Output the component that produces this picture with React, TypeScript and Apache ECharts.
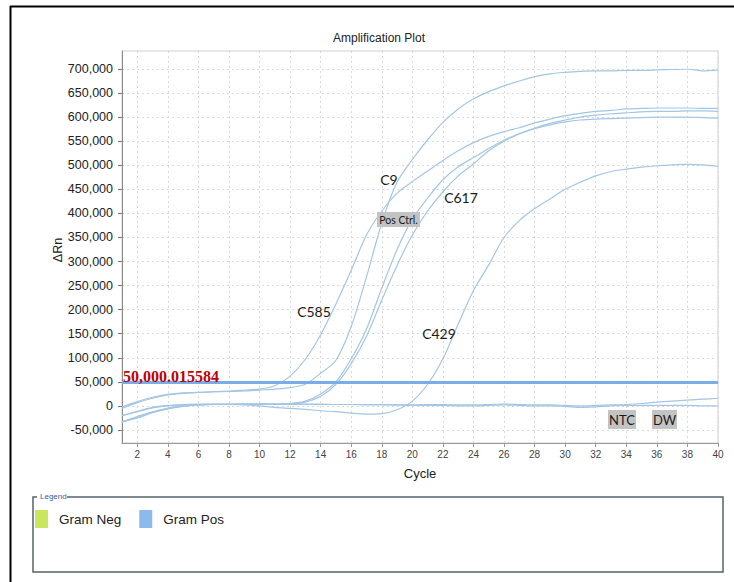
import React, { useEffect, useRef } from 'react';
import * as echarts from 'echarts';

// ---------- data ----------
const CYCLES = ['1','2','3','4','5','6','7','8','9','10','11','12','13','14','15','16','17','18','19','20',
  '21','22','23','24','25','26','27','28','29','30','31','32','33','34','35','36','37','38','39','40'];

const C585 = [-2000, 9000, 18000, 24000, 27000, 28000, 30000, 31000, 33000, 35000, 42000, 62000, 97000, 148000, 212000, 282000, 355000, 405000, 442000, 466000,
  488000, 510000, 530000, 547000, 560000, 570000, 578000, 588000, 596000, 603000, 608000, 612000, 614000, 617000, 618000, 619000, 619000, 619000, 618000, 618000];

const C9 = [-5000, 7000, 16000, 23000, 26000, 28000, 29000, 30000, 31000, 33000, 35000, 38000, 45000, 68000, 95000, 165000, 268000, 380000, 465000, 512000,
  553000, 589000, 617000, 638000, 653000, 665000, 675000, 684000, 690000, 693000, 695000, 696000, 696000, 697000, 697000, 698000, 699000, 700000, 696000, 698000];

const POS_CTRL = [-20000, -12000, -4000, 0, 2000, 3000, 4000, 4000, 4000, 4000, 4000, 5000, 10000, 25000, 50000, 98000, 160000, 245000, 325000, 388000,
  432000, 470000, 497000, 516000, 535000, 552000, 566000, 577000, 587000, 594000, 600000, 604000, 607000, 609000, 611000, 612000, 612000, 613000, 613000, 612000];

const C617 = [-33000, -25000, -14000, -6000, -1000, 2000, 3000, 3000, 4000, 4000, 4000, 4000, 8000, 20000, 45000, 88000, 145000, 220000, 292000, 355000,
  405000, 445000, 478000, 503000, 530000, 550000, 565000, 576000, 584000, 590000, 594000, 596000, 597000, 598000, 599000, 600000, 600000, 600000, 599000, 598000];

const C429 = [-33000, -22000, -12000, -5000, 0, 2000, 3000, 3000, 2000, 0, -3000, -5000, -7000, -10000, -12000, -15000, -17000, -16000, -8000, 10000,
  45000, 98000, 170000, 240000, 293000, 350000, 385000, 410000, 430000, 450000, 465000, 478000, 487000, 492000, 496000, 499000, 501000, 502000, 501000, 498000];

const NTC = [-20000, -11000, -3000, 1000, 3000, 4000, 4000, 4000, 4000, 4000, 4000, 4000, 4000, 4000, 3000, 3000, 2000, 2000, 2000, 1000,
  1000, 1000, 0, 0, 1000, 2000, 1000, 0, 0, -1000, -3000, -2000, 0, 1000, 1000, 1000, 1000, 1000, 0, 0];

const DW = [-33000, -24000, -13000, -5000, 0, 2000, 3000, 3000, 3000, 3000, 3000, 3000, 3000, 3000, 3000, 3000, 3000, 3000, 2000, 2000,
  3000, 3000, 2000, 2000, 3000, 4000, 3000, 2000, 2000, 1000, 0, 1000, 2000, 3000, 5000, 8000, 10000, 12000, 14000, 16000];

const CURVES = [C585, C9, POS_CTRL, C617, C429, NTC, DW];

const Y_MIN = -50000;
const Y_MAX = 700000;
const Y_STEP = 50000;
const THRESHOLD = 50000;
const THRESHOLD_LABEL = '50,000.015584';
const LEGEND_ITEMS = ['Gram Neg', 'Gram Pos'];

// ---------- styles ----------
const CURVE_COLOR = '#a3c6e4';
const POS_COLOR = '#8cb9ee';
const NEG_COLOR = '#c9e65c';
const THRESH_COLOR = '#78ade8';
const GRID_LINE = '#d9d9d9';
const SANS = '"Liberation Sans", Arial, sans-serif';
const CAL = 'Lato, "Open Sans", sans-serif';

export default function App() {
  const ref = useRef<HTMLDivElement>(null);

  useEffect(() => {
    if (!ref.current) return;
    const chart = echarts.init(ref.current, null, { renderer: 'svg' });
    const evenCycle = (i: number) => i % 2 === 1;

    const series: any[] = CURVES.map((d, k) => ({
      type: 'line',
      name: 'Gram Pos',
      xAxisIndex: 1,
      yAxisIndex: 1,
      data: d,
      symbol: 'none',
      showSymbol: false,
      smooth: 0.3,
      silent: true,
      lineStyle: { color: CURVE_COLOR, width: 1.2 },
      itemStyle: { color: POS_COLOR },
      z: 3,
      markLine: k === 0 ? {
        silent: true,
        symbol: ['none', 'none'],
        label: { show: false },
        lineStyle: { color: THRESH_COLOR, width: 3, type: 'solid' },
        data: [{ yAxis: THRESHOLD }],
      } : undefined,
    }));
    series.push({
      type: 'line', name: 'Gram Neg', xAxisIndex: 1, yAxisIndex: 1, data: [],
      itemStyle: { color: NEG_COLOR }, lineStyle: { color: NEG_COLOR },
    });

    const annot = (text: string, x: number, y: number) => ({
      type: 'text', x, y, z: 50,
      style: { text, fill: '#1a1a1a', font: `14px ${CAL}`, textAlign: 'center', textVerticalAlign: 'middle' },
    });
    const boxed = (text: string, x: number, y: number, w: number, h: number, fs: number) => ({
      type: 'group', z: 50,
      children: [
        { type: 'rect', shape: { x, y, width: w, height: h }, style: { fill: '#c3c3c3' }, z: 50 },
        { type: 'text', x: x + w / 2, y: y + h / 2, z: 51,
          style: { text, fill: '#1a1a1a', font: `${fs}px ${CAL}`, textAlign: 'center', textVerticalAlign: 'middle' } },
      ],
    });

    chart.setOption({
      animation: false,
      backgroundColor: '#ffffff',
      grid: [
        { left: 122, top: 51, width: 596, height: 392, show: true, borderColor: '#cfcfcf', borderWidth: 1, backgroundColor: 'transparent' },
        { left: 122, top: 69, width: 596, height: 361 },
      ],
      xAxis: [
        {
          gridIndex: 0, type: 'category', data: CYCLES, boundaryGap: false,
          axisLine: { show: true, onZero: false, lineStyle: { color: '#9a9a9a' } },
          axisTick: { show: true, interval: evenCycle, length: 4, lineStyle: { color: '#9a9a9a' } },
          axisLabel: { interval: evenCycle, color: '#444', fontSize: 10, margin: 6, fontFamily: SANS },
          splitLine: { show: true, interval: evenCycle, lineStyle: { color: GRID_LINE, type: [2, 3] } },
        },
        { gridIndex: 1, type: 'category', data: CYCLES, boundaryGap: false, show: false },
      ],
      yAxis: [
        {
          gridIndex: 0, type: 'value', min: 0, max: 1,
          axisLine: { show: true, lineStyle: { color: '#8a8a8a' } },
          axisTick: { show: false }, axisLabel: { show: false }, splitLine: { show: false },
        },
        {
          gridIndex: 1, type: 'value', min: Y_MIN, max: Y_MAX, interval: Y_STEP,
          axisLine: { show: false },
          axisTick: { show: true, length: 4, lineStyle: { color: '#777' } },
          axisLabel: {
            formatter: (v: number) => v.toLocaleString('en-US'),
            color: '#222', fontSize: 12.5, margin: 9, fontFamily: SANS,
          },
          splitLine: { show: true, lineStyle: { color: GRID_LINE, type: [2, 3] } },
        },
      ],
      legend: {
        data: LEGEND_ITEMS,
        left: 30, top: 505,
        icon: 'rect', itemWidth: 13, itemHeight: 18, itemGap: 18,
        selectedMode: false,
        textStyle: { fontSize: 13.5, color: '#222', fontFamily: SANS, padding: [0, 0, 0, 6] },
      },
      series,
      graphic: [
        { type: 'line', shape: { x1: 10, y1: 6.5, x2: 734, y2: 6.5 }, style: { stroke: '#000', lineWidth: 2 } },
        { type: 'line', shape: { x1: 10.5, y1: 6, x2: 10.5, y2: 582 }, style: { stroke: '#000', lineWidth: 2 } },
        { type: 'text', x: 379, y: 38, style: { text: 'Amplification Plot', font: `12px ${SANS}`, fill: '#222', textAlign: 'center', textVerticalAlign: 'middle' } },
        { type: 'text', x: 58, y: 250, rotation: Math.PI / 2, style: { text: 'ΔRn', font: `12.5px ${SANS}`, fill: '#222', textAlign: 'center', textVerticalAlign: 'middle' } },
        { type: 'text', x: 420, y: 473, style: { text: 'Cycle', font: `13px ${SANS}`, fill: '#222', textAlign: 'center', textVerticalAlign: 'middle' } },
        { type: 'text', x: 123, y: 376, z: 60, style: { text: THRESHOLD_LABEL, font: `bold 16px "Liberation Serif", "Times New Roman", serif`, fill: '#c00000', textAlign: 'left', textVerticalAlign: 'middle' } },
        annot('C9', 389, 179),
        annot('C617', 461, 197),
        annot('C585', 314, 311),
        annot('C429', 439, 333),
        boxed('Pos Ctrl.', 377, 212, 43, 15, 10.5),
        boxed('NTC', 608, 410, 28, 19, 13),
        boxed('DW', 652, 410, 25, 19, 13),
        { type: 'rect', shape: { x: 33, y: 497, width: 690, height: 75 }, style: { fill: 'none', stroke: '#56646c', lineWidth: 1.5 } },
        { type: 'rect', shape: { x: 37, y: 491, width: 30, height: 11 }, style: { fill: '#ffffff' } },
        { type: 'text', x: 40, y: 496.5, style: { text: 'Legend', font: `8px ${SANS}`, fill: '#3b5ba0', textAlign: 'left', textVerticalAlign: 'middle' } },
      ],
    });

    return () => chart.dispose();
  }, []);

  return (
    <div
      ref={ref}
      style={{ position: 'fixed', left: 0, top: 0, width: 734, height: 582, background: '#fff' }}
    />
  );
}
